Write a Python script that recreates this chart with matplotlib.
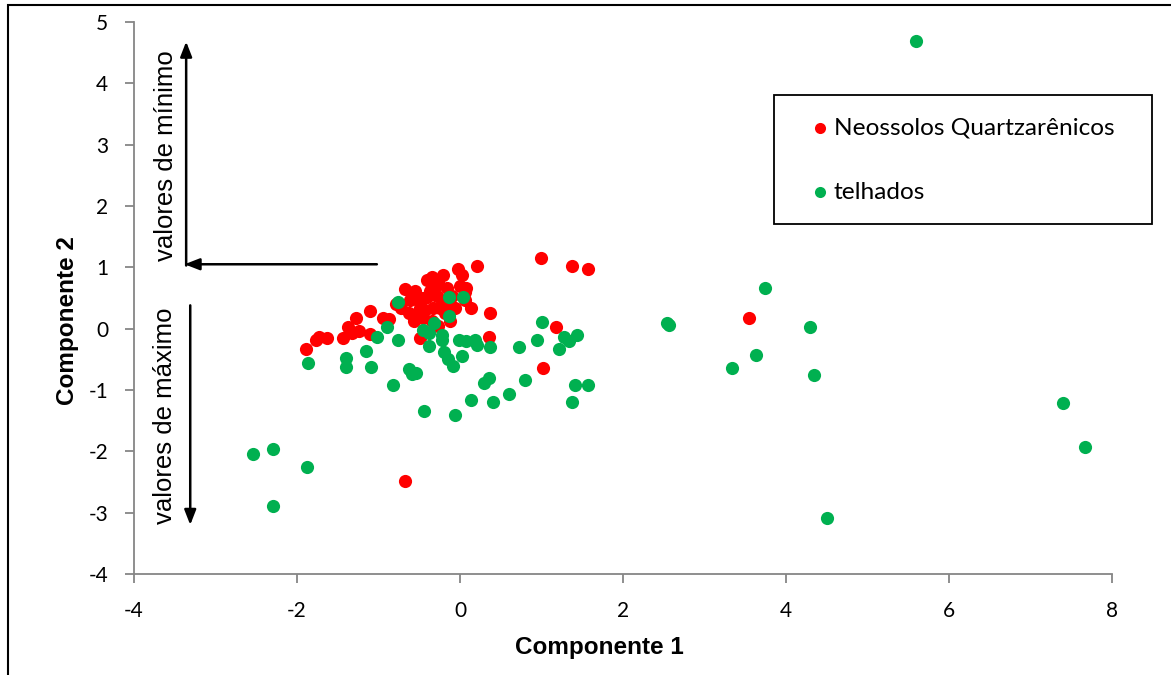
import matplotlib
matplotlib.use("Agg")
import matplotlib.pyplot as plt
from matplotlib.patches import Rectangle

# ---- data ----
neo_x = [-1.89, -1.77, -1.73, -1.63, -1.43, -1.37, -1.32, -1.27, -1.24, -1.10, -1.10, -0.94, -0.87,
         -0.79, -0.68, -0.55, -0.49, -0.55, -0.40, -0.34, -0.27, -0.16, -0.02, 0.21, 0.02, 0.07,
         0.13, 0.37, 0.35, -0.12, -0.24, -0.49, -0.61, -0.40, -0.33, -0.57, -0.45, 0.99, 1.37,
         1.57, 1.18, 1.02, -0.67, 3.54, -0.37, -0.18, -0.10, -0.28, -0.43, -0.18, -0.06, -0.34,
         -0.51, -0.73, 0.06, 0.00, -0.21, 0.06, -0.27, -0.30, -0.45, -0.62, -0.15]
neo_y = [-0.33, -0.18, -0.13, -0.16, -0.16, 0.02, -0.07, 0.18, -0.03, 0.28, -0.08, 0.18, 0.15,
         0.41, 0.64, 0.62, -0.16, 0.15, 0.79, 0.84, 0.74, 0.67, 0.98, 1.02, 0.87, 0.66,
         0.34, 0.25, -0.13, 0.13, 0.34, 0.34, 0.46, 0.51, 0.34, 0.13, 0.18, 1.16, 1.02,
         0.97, 0.02, -0.64, -2.48, 0.18, 0.62, 0.46, 0.54, 0.54, 0.30, 0.26, 0.33, 0.13,
         0.46, 0.34, 0.46, 0.70, 0.87, 0.59, 0.05, 0.70, 0.50, 0.25, 0.40]

tel_x = [-1.87, -2.54, -2.29, -2.29, -1.88, -1.40, -1.40, -1.15, -1.09, -1.02, -0.90, -0.76,
         -0.76, -0.82, -0.63, -0.59, -0.54, -0.44, -0.06, 0.13, 0.41, 0.30, 0.35, 0.60, 0.80,
         0.72, 0.94, 1.00, 1.21, 1.28, 1.34, 1.44, 1.41, 1.37, 1.57, 2.54, 2.56, 3.34, 3.63,
         3.74, 4.29, 4.34, 4.50, 5.59, 7.40, 7.67, -0.13, 0.04, -0.13, -0.32, -0.45, -0.38,
         -0.22, -0.22, -0.38, -0.20, -0.15, -0.09, 0.02, -0.01, 0.07, 0.18, 0.21, 0.37]
tel_y = [-0.56, -2.05, -1.97, -2.89, -2.26, -0.48, -0.62, -0.37, -0.62, -0.13, 0.02, -0.18,
         0.44, -0.92, -0.66, -0.74, -0.72, -1.34, -1.41, -1.16, -1.20, -0.89, -0.80, -1.07, -0.84,
         -0.30, -0.18, 0.11, -0.33, -0.13, -0.20, -0.11, -0.92, -1.20, -0.92, 0.10, 0.06, -0.64,
         -0.43, 0.67, 0.02, -0.75, -3.08, 4.69, -1.21, -1.93, 0.51, 0.51, 0.20, 0.10, -0.02,
         -0.07, -0.10, -0.18, -0.29, -0.38, -0.49, -0.61, -0.44, -0.18, -0.20, -0.18, -0.26, -0.30]

series_names = ["Neossolos Quartzarênicos", "telhados"]
x_ticks = [-4, -2, 0, 2, 4, 6, 8]
y_ticks = [-4, -3, -2, -1, 0, 1, 2, 3, 4, 5]

RED = "#FF0000"
GREEN = "#00B050"
GRAY = "#868686"

W, H = 1171, 675
fig = plt.figure(figsize=(W / 100, H / 100), dpi=100)
ax = fig.add_axes([134 / W, 1 - 574 / H, (1112 - 134) / W, (574 - 22) / H])

ax.scatter(neo_x, neo_y, s=90, color=RED, linewidths=0, zorder=3)
ax.scatter(tel_x, tel_y, s=90, color=GREEN, linewidths=0, zorder=4)

ax.set_xlim(-4, 8)
ax.set_ylim(-4, 5)
ax.set_xticks(x_ticks)
ax.set_yticks(y_ticks)
ax.set_xticklabels([str(t) for t in x_ticks], fontsize=15, family="Lato")
ax.set_yticklabels([str(t) for t in y_ticks], fontsize=15, family="Lato")
for s in ["top", "right"]:
    ax.spines[s].set_visible(False)
for s in ["left", "bottom"]:
    ax.spines[s].set_color(GRAY)
    ax.spines[s].set_linewidth(1.3)
ax.tick_params(direction="out", length=6.5, width=1.3, color=GRAY)
ax.tick_params(axis="x", pad=13)
ax.tick_params(axis="y", pad=12)

ax.set_xlabel("Componente 1", fontsize=17.5, fontweight="bold", family="Liberation Sans")
ax.set_ylabel("Componente 2", fontsize=17.5, fontweight="bold", family="Liberation Sans")
ax.xaxis.set_label_coords(0.476, -0.134)
ax.yaxis.set_label_coords(-0.0675, 0.46)
ax.xaxis.label.set_va("center")
ax.yaxis.label.set_va("center")

# arrows
arrow_kw = dict(arrowstyle="-|>,head_length=0.9,head_width=0.35", color="black", lw=1.8,
                shrinkA=0, shrinkB=0)
ax.annotate("", xy=(-3.36, 4.68), xytext=(-3.36, 1.03), arrowprops=arrow_kw)
ax.annotate("", xy=(-3.38, 1.05), xytext=(-1.02, 1.05), arrowprops=arrow_kw)
ax.annotate("", xy=(-3.31, -3.2), xytext=(-3.31, 0.38), arrowprops=arrow_kw)

ax.text(-3.61, 2.82, "valores de mínimo", rotation=90, ha="center", va="center",
        fontsize=18.5, family="Liberation Sans")
ax.text(-3.62, -1.42, "valores de máximo", rotation=90, ha="center", va="center",
        fontsize=18.5, family="Liberation Sans")

# legend (drawn manually for exact placement)
ax.add_patch(Rectangle((0.654, 0.634), 0.3865, 0.2337, transform=ax.transAxes, fill=True,
                       facecolor="white", edgecolor="black", lw=1.3, zorder=10, clip_on=False))
leg_y = [0.808, 0.692]
for name, col, yy in zip(series_names, [RED, GREEN], leg_y):
    ax.scatter([0.7014], [yy], s=64, color=col, linewidths=0, transform=ax.transAxes,
               zorder=11, clip_on=False)
    ax.text(0.7155, yy, name, transform=ax.transAxes, ha="left", va="center",
            fontsize=17.6, family="Lato", zorder=11)

# outer border
fig.patches.append(Rectangle((8 / W, -0.1), 1.2, 1 - 5 / H + 0.1, transform=fig.transFigure,
                             fill=False, edgecolor="black", lw=1.5))

fig.savefig("out.png", dpi=100, facecolor="white")
